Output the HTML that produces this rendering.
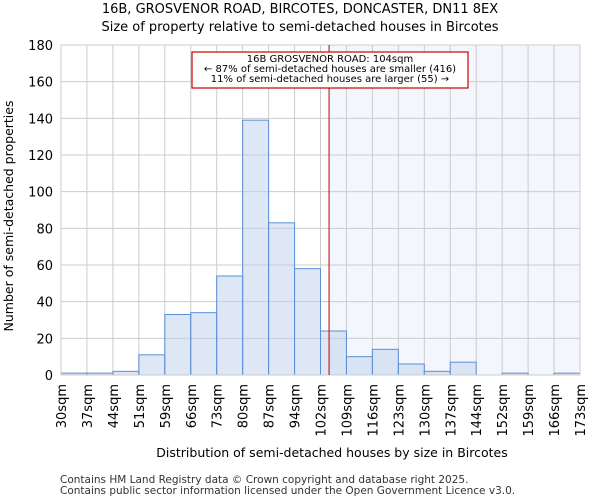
<!DOCTYPE html>
<html><head><meta charset="utf-8"><style>
body{margin:0;background:#fff;font-family:"DejaVu Sans","Liberation Sans",sans-serif;}
</style></head><body>
<svg id="c" width="600" height="500" xmlns="http://www.w3.org/2000/svg" font-family="DejaVu Sans, Liberation Sans, sans-serif">
<text x="300" y="13" text-anchor="middle" font-size="13">16B, GROSVENOR ROAD, BIRCOTES, DONCASTER, DN11 8EX</text>
<text x="300" y="31" text-anchor="middle" font-size="13">Size of property relative to semi-detached houses in Bircotes</text>
<g id="plot"></g>
<text x="332" y="457" text-anchor="middle" font-size="12.5">Distribution of semi-detached houses by size in Bircotes</text>
<text transform="translate(13,216) rotate(-90)" text-anchor="middle" font-size="12.5">Number of semi-detached properties</text>
<text x="60" y="483" font-size="10.5" fill="#333">Contains HM Land Registry data © Crown copyright and database right 2025.</text>
<text x="60" y="494" font-size="10.5" fill="#333">Contains public sector information licensed under the Open Government Licence v3.0.</text>
</svg>
<script>
const binLabels=["30sqm","37sqm","44sqm","51sqm","59sqm","66sqm","73sqm","80sqm","87sqm","94sqm","102sqm","109sqm","116sqm","123sqm","130sqm","137sqm","144sqm","152sqm","159sqm","166sqm","173sqm"];
const counts=[1,1,2,11,33,34,54,139,83,58,24,10,14,6,2,7,0,1,0,1];
const yTicks=[0,20,40,60,80,100,120,140,160,180];
const markerBin=10.33;
const L=61,R=580,T=45,B=375,yMax=180;
const n=counts.length,bw=(R-L)/n;
const xs=i=>L+i*bw, ys=v=>B-(v/yMax)*(B-T);
const g=document.getElementById('plot');
const NS="http://www.w3.org/2000/svg";
function mk(t,a){const e=document.createElementNS(NS,t);for(const k in a)e.setAttribute(k,a[k]);g.appendChild(e);return e;}
const mx=xs(markerBin);
let e=mk('rect',{x:mx,y:T,width:R-mx,height:B-T,fill:'#f3f6fd'});


yTicks.forEach(v=>{
 let l=mk('line',{x1:L,x2:R,y1:ys(v),y2:ys(v),stroke:'#cccccc'});
 
 
 let t=mk('text',{x:L-8,y:ys(v)+5,'text-anchor':'end','font-size':13});
 t.textContent=v;
 
 
});
binLabels.forEach((s,i)=>{
 let l=mk('line',{x1:xs(i),x2:xs(i),y1:T,y2:B,stroke:'#cccccc'});
 
 
 let t=mk('text',{transform:`translate(${xs(i)+5},${B+9}) rotate(-90)`,'text-anchor':'end','font-size':13});
 t.textContent=s;
 
 
});
counts.forEach((v,i)=>{
 if(v<=0)return;
 let r=mk('rect',{x:xs(i),y:ys(v),width:bw,height:B-ys(v),fill:'rgba(190,208,236,0.5)',stroke:'#5b8fd6','stroke-width':1});
 
 
});
e=mk('rect',{x:L,y:T,width:R-L,height:B-T,fill:'none',stroke:'#cccccc'});


e=mk('line',{x1:mx,x2:mx,y1:T,y2:B,stroke:'#bb0000','stroke-width':1});


e=mk('rect',{x:192,y:52,width:276,height:36,fill:'#fff',stroke:'#cc0000','stroke-width':1.2});


["16B GROSVENOR ROAD: 104sqm","← 87% of semi-detached houses are smaller (416)","11% of semi-detached houses are larger (55) →"].forEach((s,i)=>{
 let t=mk('text',{x:330,y:62+i*10,'text-anchor':'middle','font-size':10});
 t.textContent=s;
 
 
});
</script>
</body></html>
